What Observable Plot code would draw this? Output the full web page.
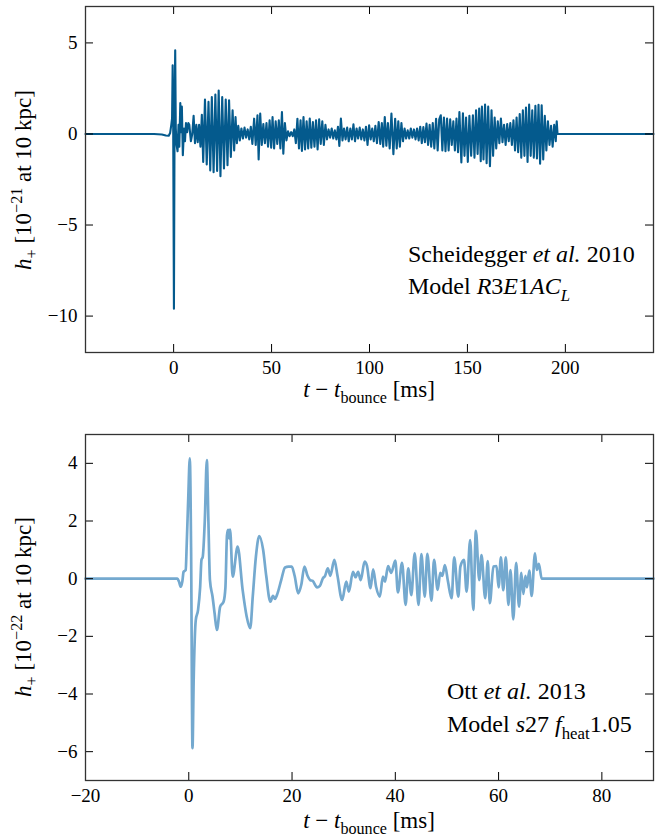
<!DOCTYPE html>
<html>
<head>
<meta charset="utf-8">
<script src="https://cdn.jsdelivr.net/npm/d3@7"></script>
<script src="https://cdn.jsdelivr.net/npm/@observablehq/plot@0.6"></script>
<style>
  html, body { margin: 0; padding: 0; background: #fff; }
  #chart svg { display: block; }
</style>
</head>
<body>
<div id="chart"></div>
<script>
// ---------- Data: Scheidegger et al. 2010, model R3E1AC_L (h+ in 1e-21 at 10 kpc) ----------
const scheideggerT = [
  -45, -20, -10, -6, -4, -2.5, -1.8, -1.2, -0.8, -0.5, -0.25, 0.15, 0.5, 0.8, 1.1, 1.5, 2.0, 2.5, 2.9, 3.4,
  3.8, 4.2, 4.7, 5.3, 5.8, 6.3, 6.9, 7.5, 8.0, 8.8, 9.5, 10.2, 10.9, 11.6, 12.3, 13.0, 13.7, 14.4, 15.1, 16.0,
  16.9, 17.8, 18.7, 19.5, 20.4, 21.3, 22.2, 23.0, 23.9, 24.8, 25.7, 26.6, 27.5, 28.3, 29.2, 30.1, 30.9, 31.6, 32.3, 33.0,
  33.8, 34.6, 35.4, 36.2, 37.0, 37.8, 38.6, 39.4, 40.2, 41.1, 41.9, 42.8, 43.4, 44.2, 45.0, 45.8, 46.6, 47.4, 48.2, 49.0,
  49.8, 50.5, 51.3, 52.1, 52.9, 53.7, 54.5, 55.3, 56.0, 56.8, 57.6, 58.4, 59.2, 60.0, 60.8, 61.6, 62.4, 63.2, 64.0, 64.8,
  65.5, 66.3, 67.1, 67.9, 68.7, 69.5, 70.3, 71.1, 71.9, 72.7, 73.5, 74.3, 75.1, 75.9, 76.7, 77.5, 78.3, 79.1, 79.9, 80.7,
  81.5, 82.3, 83.1, 83.9, 84.6, 85.4, 86.2, 87.0, 87.8, 88.6, 89.4, 90.2, 91.0, 91.8, 92.6, 93.4, 94.2, 95.0, 95.8, 96.6,
  97.4, 98.2, 99.0, 99.8, 100.6, 101.4, 102.2, 103.0, 103.8, 104.7, 105.5, 106.3, 107.0, 107.8, 108.6, 109.4, 110.3, 111.2, 112.2, 113.1,
  113.9, 114.7, 115.5, 116.3, 117.1, 117.9, 118.7, 119.5, 120.3, 121.1, 121.9, 122.7, 123.5, 124.3, 125.1, 125.9, 126.7, 127.5, 128.3, 129.1,
  129.9, 130.7, 131.5, 132.3, 133.1, 134.0, 134.8, 135.6, 136.4, 137.2, 138.0, 138.8, 139.6, 140.4, 141.2, 142.0, 142.8, 143.6, 144.4, 145.2,
  145.9, 146.9, 147.7, 148.5, 149.3, 150.2, 151.0, 151.9, 152.8, 153.6, 154.4, 155.2, 156.0, 156.8, 157.4, 158.2, 159.0, 159.8, 160.6, 161.5,
  162.3, 163.1, 163.9, 164.7, 165.5, 166.3, 167.1, 167.9, 168.7, 169.5, 170.3, 171.1, 171.9, 172.7, 173.5, 174.3, 175.1, 175.9, 176.7, 177.5,
  178.3, 179.1, 179.9, 180.7, 181.5, 182.3, 183.1, 183.9, 184.7, 185.5, 186.3, 187.1, 187.9, 188.7, 189.5, 190.3, 191.1, 191.9, 192.7, 193.5,
  194.3, 195.1, 195.6, 196.0, 245
];
const scheideggerH = [
  0, 0, 0, -0.03, -0.08, -0.1, 0.05, 0.5, 0.85, 3.77, 1.0, -9.6, 1.5, 4.6, 0.3, -0.6, -0.95, 0.5, -0.7, 1.7,
  0.1, 1.5, -1.17, 0.3, -0.4, 0.6, 0.1, 0.6, 0.5, -0.4, 0.0, 1.0, -0.5, 0.5, -0.45, 0.5, -0.7, 1.05, -1.54, 1.89,
  -1.68, 1.76, -2.0, 2.03, -2.1, 2.16, -2.03, 2.38, -2.32, 2.03, -1.9, 1.89, -1.72, 1.85, -1.26, 1.3, -0.9, 0.93, -0.5, 0.45,
  -0.35, 0.3, -0.25, 0.35, -0.2, 0.25, -0.3, 0.4, -0.55, 0.84, -0.6, 1.03, -1.4, 1.12, -0.6, 0.55, -0.5, 0.6, -0.7, 0.75,
  -0.75, 0.93, -0.8, 0.7, -0.55, 0.75, -0.8, 1.2, -1.08, 0.6, -0.35, 0.15, -0.12, 0.1, -0.12, 0.25, -0.5, 0.84, -0.8, 0.75,
  -0.93, 0.93, -0.85, 0.7, -0.8, 0.85, -0.75, 0.65, -0.7, 0.75, -0.85, 0.8, -0.55, 0.7, -0.6, 0.5, -0.3, 0.25, -0.2, 0.3,
  -0.25, 0.2, -0.3, 0.4, -0.66, 0.85, -0.35, 0.3, -0.3, 0.35, -0.4, 0.3, -0.3, 0.53, -0.4, 0.3, -0.25, 0.35, -0.3, 0.25,
  -0.35, 0.4, -0.6, 0.48, -0.3, 0.3, -0.4, 0.45, -0.5, 0.66, -0.55, 0.6, -0.7, 0.93, -0.65, 0.6, -0.8, 1.12, -1.11, 0.84,
  -0.8, 0.7, -0.7, 0.6, -0.4, 0.3, -0.25, 0.2, -0.25, 0.3, -0.2, 0.25, -0.3, 0.3, -0.35, 0.4, -0.5, 0.38, -0.45, 0.57,
  -0.6, 0.5, -0.7, 0.6, -0.8, 0.84, -0.9, 0.8, 1.03, -0.9, 0.9, -0.95, 0.85, -0.9, 0.8, -0.6, 0.7, -0.9, 0.85, -1.0,
  1.2, -1.57, 1.14, -1.2, 0.9, -1.53, 1.0, -1.2, 1.03, -1.3, 1.3, -1.1, 1.4, -1.5, 1.5, -1.4, 1.61, -1.6, 1.5, -1.77,
  1.3, -1.2, 0.9, -0.8, 0.7, -0.5, 0.85, -0.45, 0.5, -0.6, 0.55, -0.4, 0.6, -0.6, 0.75, -0.9, 0.9, -1.0, 1.1, -1.3,
  1.3, -1.2, 1.45, -1.54, 1.61, -1.2, 1.3, -1.3, 1.55, -1.35, 1.6, -1.63, 1.58, -1.4, 1.0, -0.9, 0.7, -0.6, 0.45, -0.7,
  0.5, -0.4, 0.7, 0.0, 0
];

// ---------- Data: Ott et al. 2013, model s27fheat1.05 (h+ in 1e-22 at 10 kpc) ----------
const ottT = [
  -20, -3, -2.2, -1.9, -1.55, -1.25, -1.0, -0.6, -0.39, -0.1, 0.2, 0.45, 0.72, 0.95, 1.36, 1.8, 2.2, 2.46, 2.7, 3.1,
  3.5, 3.8, 4.1, 4.6, 5.0, 5.44, 6.08, 6.74, 7.1, 7.4, 7.6, 7.8, 8.0, 8.5, 9.46, 10.43, 11.2, 11.9, 12.4, 13.0,
  13.65, 14.4, 15.0, 15.8, 16.3, 16.7, 17.2, 17.9, 18.64, 19.3, 19.94, 20.5, 21.2, 21.8, 22.4, 23.0, 23.5, 24.0, 24.85, 25.4,
  25.96, 26.4, 26.93, 27.4, 28.2, 28.8, 29.7, 30.5, 31.0, 31.8, 32.3, 32.8, 33.3, 34.05, 34.5, 35.2, 35.7, 36.3, 37.0, 37.6,
  38.0, 38.6, 39.2, 40.0, 40.5, 41.3, 42.0, 42.5, 43.1, 43.75, 44.5, 45.05, 45.7, 46.2, 47.0, 47.5, 48.2, 48.7, 49.1, 49.6,
  50.2, 50.9, 51.4, 52.2, 52.6, 53.3, 53.8, 54.5, 55.1, 55.6, 56.25, 56.7, 57.4, 57.9, 58.3, 59.0, 59.6, 60.0, 60.45, 60.9,
  61.4, 61.9, 62.3, 62.85, 63.4, 63.95, 64.4, 64.8, 65.2, 65.5, 65.95, 66.4, 67.05, 67.4, 67.8, 68.35, 90
];
const ottH = [
  0, 0, 0, -0.1, -0.28, -0.1, 0.24, 0.3, 1.23, 2.8, 4.17, 1.0, -5.88, -3.5, -1.43, -1.08, -0.3, 0.65, 0.75, 2.0,
  4.11, 2.0, -0.05, -0.62, -1.2, -1.78, -0.97, -0.8, -0.3, 1.5, 1.69, 1.4, 1.7, 0.07, 1.11, -0.39, -1.3, -1.72, -0.6, 0.76,
  1.48, 1.0, 0.1, -0.8, -0.6, -0.7, -0.5, -0.05, 0.39, 0.42, 0.42, 0.1, -0.51, -0.2, 0.42, 0.1, -0.05, -0.08, -0.3, -0.25,
  0.01, 0.1, 0.36, 0.1, 0.65, 0.1, -0.74, -0.1, -0.45, 0.24, 0.05, 0.24, -0.05, 0.59, 0.45, -0.33, 0.32, -0.3, -0.62, 0.07,
  -0.1, 0.44, 0.2, 0.63, -0.48, 0.55, -0.91, 0.36, -0.57, 0.88, -0.91, 0.85, -0.62, 0.86, -0.76, 0.65, -0.39, 0.2, 0.1, 0.47,
  -0.1, -0.68, 0.74, -0.62, 0.42, 0.65, -0.45, 1.34, -1.08, 1.66, -0.05, 0.82, -0.68, 0.61, -0.85, 0.42, 0.44, -0.3, 0.74, -0.4,
  0.74, -0.91, 0.3, -1.41, 0.55, -0.97, 0.2, -0.53, 0.1, -0.3, 0.28, -0.6, 0.88, 0.3, 0.51, 0.0, 0
];

// ---------- Axis ticks ----------
const topXTicks = [0, 50, 100, 150, 200];
const topYTicks = [-10, -5, 0, 5];
const botXTicks = [-20, 0, 20, 40, 60, 80];
const botYTicks = [-6, -4, -2, 0, 2, 4];

const topData = scheideggerT.map((t, i) => ({t, h: scheideggerH[i]}));
const botData = ottT.map((t, i) => ({t, h: ottH[i]}));

const FONT = "'Liberation Serif', 'DejaVu Serif', serif";
const W = 662, ML = 85, MR = 9, PH = 346;
const PW = W - ML - MR;
const TICK = 8;
const TICK_FONT = 19;

function panel({data, color, strokeWidth, curve, xDomain, yDomain, xTicks, yTicks, marginTop, marginBottom}) {
  const height = marginTop + PH + marginBottom;
  return Plot.plot({
    width: W, height,
    marginLeft: ML, marginRight: MR, marginTop, marginBottom,
    style: {fontFamily: FONT, fontSize: TICK_FONT + "px", color: "#000", background: "#fff"},
    x: {domain: xDomain},
    y: {domain: yDomain},
    marks: [
      Plot.line(data, {x: "t", y: "h", stroke: color, strokeWidth, curve, strokeLinejoin: "round"}),
      // inward mirrored ticks on all four sides
      Plot.tickX(xTicks, {x: d => d, insetBottom: PH - TICK, stroke: "#000", strokeWidth: 1}),
      Plot.tickX(xTicks, {x: d => d, insetTop: PH - TICK, stroke: "#000", strokeWidth: 1}),
      Plot.tickY(yTicks, {y: d => d, insetRight: PW - TICK, stroke: "#000", strokeWidth: 1}),
      Plot.tickY(yTicks, {y: d => d, insetLeft: PW - TICK, stroke: "#000", strokeWidth: 1}),
      Plot.frame({stroke: "#333", strokeWidth: 1.3}),
      Plot.axisX(xTicks, {tickSize: 0, tickPadding: 8, label: null, fontSize: TICK_FONT, fontFamily: FONT}),
      Plot.axisY(yTicks, {tickSize: 0, tickPadding: 8, label: null, fontSize: TICK_FONT, fontFamily: FONT})
    ]
  });
}

// rich text helper: parts = [{t, it, sub, sup}]
function rich(svg, {x, y, rotate = 0, anchor = "start", size = 20, parts}) {
  const text = d3.select(svg).append("text")
    .attr("transform", `translate(${x},${y}) rotate(${rotate})`)
    .attr("text-anchor", anchor)
    .attr("font-family", FONT)
    .attr("font-size", size)
    .attr("fill", "#000");
  let shift = 0;
  for (const p of parts) {
    const target = p.sub ? size * 0.28 : p.sup ? -size * 0.4 : 0;
    const ts = text.append("tspan").text(p.t);
    if (target !== shift) { ts.attr("dy", target - shift); shift = target; }
    if (p.sub || p.sup) ts.attr("font-size", size * 0.7);
    if (p.it) ts.attr("font-style", "italic");
  }
  return text;
}

const chart = document.getElementById("chart");
const LABEL = 23, NOTE = 24;

// ---- Top panel ----
const topSvg = panel({
  data: topData, color: "#045a8d", strokeWidth: 2.1, curve: "linear",
  xDomain: [-45, 245], yDomain: [-12, 7], xTicks: topXTicks, yTicks: topYTicks,
  marginTop: 6, marginBottom: 66
});
chart.appendChild(topSvg);
rich(topSvg, {x: 31, y: 180, rotate: -90, anchor: "middle", size: LABEL, parts: [
  {t: "h", it: true}, {t: "+", sub: true}, {t: " [10"}, {t: "−21", sup: true}, {t: " at 10 kpc]"}
]});
rich(topSvg, {x: 369, y: 397, anchor: "middle", size: LABEL, parts: [
  {t: "t", it: true}, {t: " − "}, {t: "t", it: true}, {t: "bounce", sub: true}, {t: " [ms]"}
]});
rich(topSvg, {x: 408, y: 262, size: NOTE, parts: [
  {t: "Scheidegger "}, {t: "et al.", it: true}, {t: " 2010"}
]});
rich(topSvg, {x: 408, y: 294, size: NOTE, parts: [
  {t: "Model "}, {t: "R", it: true}, {t: "3"}, {t: "E", it: true}, {t: "1"}, {t: "AC", it: true}, {t: "L", it: true, sub: true}
]});

// ---- Bottom panel ----
const botSvg = panel({
  data: botData, color: "#74a9cf", strokeWidth: 2.7, curve: "monotone-x",
  xDomain: [-20, 90], yDomain: [-7, 5], xTicks: botXTicks, yTicks: botYTicks,
  marginTop: 16, marginBottom: 56
});
chart.appendChild(botSvg);
rich(botSvg, {x: 31, y: 189, rotate: -90, anchor: "middle", size: LABEL, parts: [
  {t: "h", it: true}, {t: "+", sub: true}, {t: " [10"}, {t: "−22", sup: true}, {t: " at 10 kpc]"}
]});
rich(botSvg, {x: 369, y: 410, anchor: "middle", size: LABEL, parts: [
  {t: "t", it: true}, {t: " − "}, {t: "t", it: true}, {t: "bounce", sub: true}, {t: " [ms]"}
]});
rich(botSvg, {x: 447, y: 281, size: NOTE, parts: [
  {t: "Ott "}, {t: "et al.", it: true}, {t: " 2013"}
]});
rich(botSvg, {x: 447, y: 314, size: NOTE, parts: [
  {t: "Model "}, {t: "s", it: true}, {t: "27 "}, {t: "f", it: true}, {t: "heat", sub: true}, {t: "1.05"}
]});
</script>
</body>
</html>
